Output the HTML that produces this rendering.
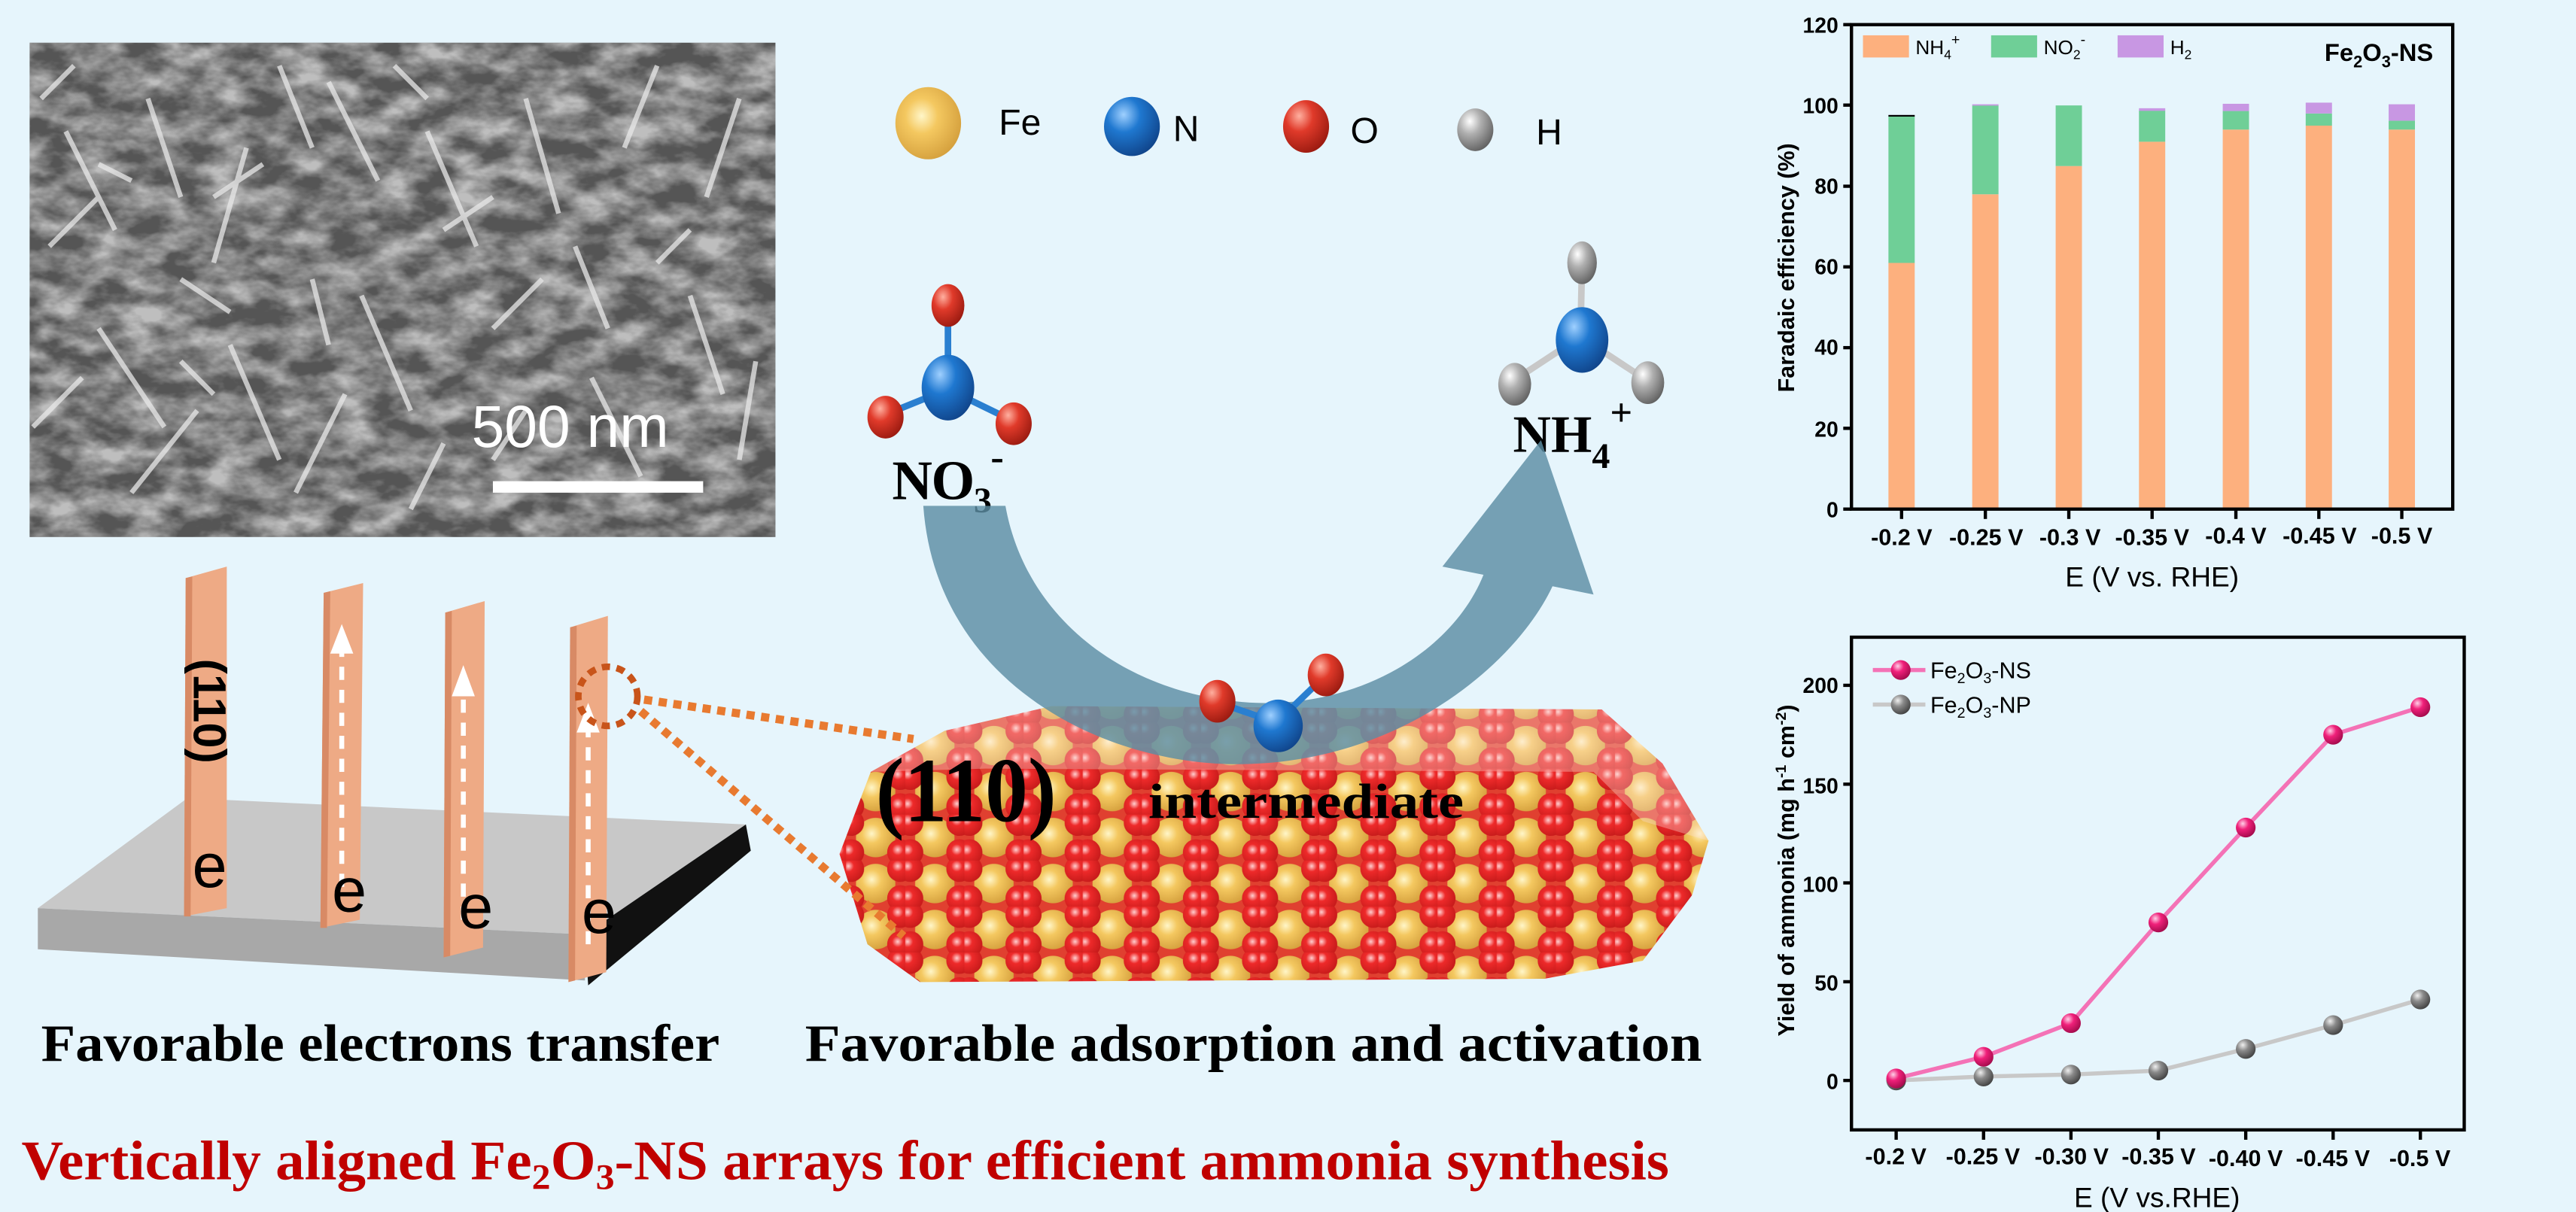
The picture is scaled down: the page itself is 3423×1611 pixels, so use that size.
<!DOCTYPE html>
<html><head><meta charset="utf-8"><style>
html,body{margin:0;padding:0;background:#e6f5fc;}
svg{display:block}
.s{font-family:"Liberation Sans",sans-serif;font-weight:bold}
.t{font-family:"Liberation Serif",serif;font-weight:bold}
</style></head><body>
<svg width="3423" height="1611" viewBox="0 0 1568 738" xmlns="http://www.w3.org/2000/svg">
<defs>
<radialGradient id="gFe" cx="0.4" cy="0.4" r="0.7"><stop offset="0" stop-color="#fff6c8"/><stop offset="0.35" stop-color="#f4c860"/><stop offset="1" stop-color="#d09a38"/></radialGradient>
<radialGradient id="gN" cx="0.35" cy="0.3" r="0.75"><stop offset="0" stop-color="#9fd0ff"/><stop offset="0.4" stop-color="#1f78d0"/><stop offset="1" stop-color="#10448a"/></radialGradient>
<radialGradient id="gO" cx="0.35" cy="0.3" r="0.75"><stop offset="0" stop-color="#ffb0a0"/><stop offset="0.4" stop-color="#e03a2a"/><stop offset="1" stop-color="#9a1a10"/></radialGradient>
<radialGradient id="gR" cx="0.4" cy="0.4" r="0.7"><stop offset="0" stop-color="#ffd0d0"/><stop offset="0.3" stop-color="#ee2a2a"/><stop offset="1" stop-color="#c01818"/></radialGradient>
<radialGradient id="gH" cx="0.35" cy="0.3" r="0.75"><stop offset="0" stop-color="#ffffff"/><stop offset="0.4" stop-color="#b0b0b0"/><stop offset="1" stop-color="#606060"/></radialGradient>
<radialGradient id="gP" cx="0.35" cy="0.3" r="0.75"><stop offset="0" stop-color="#ffd0e8"/><stop offset="0.4" stop-color="#f0207a"/><stop offset="1" stop-color="#a00a4a"/></radialGradient>
<radialGradient id="gG" cx="0.35" cy="0.3" r="0.75"><stop offset="0" stop-color="#f0f0f0"/><stop offset="0.4" stop-color="#8a8a8a"/><stop offset="1" stop-color="#404040"/></radialGradient>
<filter id="sem" x="0" y="0" width="1" height="1">
<feTurbulence type="fractalNoise" baseFrequency="0.04 0.07" numOctaves="4" seed="7"/>
<feColorMatrix type="matrix" values="0 0 0 0 1  0 0 0 0 1  0 0 0 0 1  2.2 0 0 0 -0.7"/>
</filter>
<pattern id="xtal" width="36" height="28" patternUnits="userSpaceOnUse" x="515" y="440">
<rect width="36" height="28" fill="#e04030"/>
<circle cx="18" cy="14" r="12" fill="url(#gFe)"/>
<circle cx="3" cy="5" r="8" fill="url(#gR)"/>
<circle cx="3" cy="23" r="8" fill="url(#gR)"/>
<circle cx="33" cy="5" r="8" fill="url(#gR)"/>
<circle cx="33" cy="23" r="8" fill="url(#gR)"/>
</pattern>
<clipPath id="semclip"><rect x="18" y="26" width="454" height="301"/></clipPath>
</defs>
<rect width="1568" height="738" fill="#e6f5fc"/>

<!-- SEM -->
<rect x="18" y="26" width="454" height="301" fill="#555"/>
<g clip-path="url(#semclip)">
<rect x="18" y="26" width="454" height="301" fill="#fff" filter="url(#sem)" opacity="0.62"/>
<g stroke="#e8e8e8" stroke-width="3" opacity="0.75">
<path d="M40 80 L70 140 M90 60 L110 120 M150 90 L130 160 M200 50 L230 110 M260 80 L290 150 M320 60 L340 130 M380 90 L400 40 M430 120 L450 60 M60 200 L100 260 M140 210 L170 280 M220 180 L250 250 M300 200 L330 170 M360 230 L390 290 M420 180 L440 240 M80 300 L120 250 M180 300 L210 240 M250 310 L270 270 M30 150 L60 120 M110 170 L140 190 M270 140 L300 120 M350 150 L370 200 M450 280 L460 220 M25 60 L45 40 M170 40 L190 90 M240 40 L260 60 M60 100 L80 110 M110 220 L130 240 M190 170 L200 210 M300 280 L320 250 M400 160 L420 140 M20 260 L50 230 M130 120 L160 100"/>
</g>
</g>
<text x="287" y="272" class="s" style="font-weight:normal" font-size="36" fill="#fff">500 nm</text>
<rect x="300" y="293" width="128" height="7" fill="#fff"/>

<!-- legend atoms -->
<ellipse cx="565" cy="75" rx="20" ry="22" fill="url(#gFe)"/><text x="608" y="82" class="s" style="font-weight:normal" font-size="22">Fe</text>
<ellipse cx="689" cy="77" rx="17" ry="18" fill="url(#gN)"/><text x="714" y="86" class="s" style="font-weight:normal" font-size="22">N</text>
<ellipse cx="795" cy="77" rx="14" ry="16" fill="url(#gO)"/><text x="822" y="87" class="s" style="font-weight:normal" font-size="22">O</text>
<ellipse cx="898" cy="79" rx="11" ry="13" fill="url(#gH)"/><text x="935" y="88" class="s" style="font-weight:normal" font-size="22">H</text>

<!-- NO3 -->
<g stroke-width="4"><line x1="577" y1="237" x2="577" y2="187" stroke="#2a7fd0"/><line x1="577" y1="237" x2="540" y2="252" stroke="#2a7fd0"/><line x1="577" y1="237" x2="616" y2="256" stroke="#2a7fd0"/></g>
<ellipse cx="577" cy="186" rx="10" ry="13" fill="url(#gO)"/>
<ellipse cx="577" cy="236" rx="16" ry="20" fill="url(#gN)"/>
<ellipse cx="539" cy="254" rx="11" ry="13" fill="url(#gO)"/>
<ellipse cx="617" cy="258" rx="11" ry="13" fill="url(#gO)"/>
<text x="543" y="304" class="t" font-size="34" textLength="68">NO<tspan font-size="22" dy="8">3</tspan><tspan font-size="24" dy="-26">-</tspan></text>
<!-- NH4 -->
<g stroke="#c8c8c8" stroke-width="4"><line x1="962" y1="205" x2="963" y2="160"/><line x1="962" y1="205" x2="921" y2="232"/><line x1="962" y1="205" x2="1003" y2="232"/></g>
<ellipse cx="963" cy="160" rx="9" ry="13" fill="url(#gH)"/>
<ellipse cx="963" cy="207" rx="16" ry="20" fill="url(#gN)"/>
<ellipse cx="922" cy="234" rx="10" ry="13" fill="url(#gH)"/>
<ellipse cx="1003" cy="233" rx="10" ry="13" fill="url(#gH)"/>
<text x="921" y="275" class="t" font-size="32">NH<tspan font-size="22" dy="10">4</tspan><tspan font-size="24" dy="-26">+</tspan></text>

<!-- crystal slab -->
<path d="M511 520 L530 470 L575 445 L640 430 L975 432 L1012 465 L1040 512 L1030 545 L1000 585 L940 596 L560 598 L528 575 Z" fill="url(#xtal)"/>
<path d="M530 470 L575 445 L640 430 L975 432 L1012 465 L1040 512 L1000 500 L970 470 L600 468 Z" fill="#fbe0d8" opacity="0.35"/>

<!-- big arrow -->
<path d="M562 308 C570 420 680 470 765 465 C860 460 925 400 945 357 L970 362 L938 268 L878 345 L903 350 C885 395 830 430 765 428 C690 425 625 380 612 308 Z" fill="#5b8ea4" opacity="0.82"/>

<!-- intermediate -->
<g stroke="#2a7fd0" stroke-width="4"><line x1="777" y1="440" x2="742" y2="428"/><line x1="777" y1="440" x2="806" y2="412"/></g>
<ellipse cx="741" cy="427" rx="11" ry="13" fill="url(#gO)"/>
<ellipse cx="807" cy="411" rx="11" ry="13" fill="url(#gO)"/>
<ellipse cx="778" cy="442" rx="15" ry="16" fill="url(#gN)"/>
<text x="533" y="500" class="t" font-size="56" textLength="110" lengthAdjust="spacingAndGlyphs">(110)</text>
<text x="699" y="498" class="t" font-size="30" textLength="192" lengthAdjust="spacingAndGlyphs">intermediate</text>

<!-- plate -->
<path d="M23 553 L114 486 L454 502 L356 569 Z" fill="#c8c8c8"/>
<path d="M23 553 L356 569 L356 597 L23 578 Z" fill="#a8a8a8"/>
<path d="M356 569 L454 502 L457 518 L358 600 Z" fill="#111"/>
<!-- slabs -->
<g>
<path d="M113 352 L138 345 L138 553 L112 558 Z" fill="#eeaa85"/><path d="M113 352 L117 351 L116 558 L112 558Z" fill="#d88a65"/>
<path d="M197 361 L221 355 L219 560 L195 565 Z" fill="#eeaa85"/><path d="M197 361 L201 360 L199 565 L195 565Z" fill="#d88a65"/>
<path d="M271 373 L295 366 L294 577 L270 583 Z" fill="#eeaa85"/><path d="M271 373 L275 372 L274 582 L270 583Z" fill="#d88a65"/>
<path d="M347 382 L370 375 L369 592 L346 598 Z" fill="#eeaa85"/><path d="M347 382 L351 381 L350 597 L346 598Z" fill="#d88a65"/>
</g>
<text transform="translate(118 433) rotate(90)" text-anchor="middle" class="s" font-size="28">(110)</text>
<g stroke="#fff" stroke-width="3" stroke-dasharray="8 6"><line x1="208" y1="540" x2="208" y2="395"/><line x1="282" y1="560" x2="282" y2="420"/><line x1="358" y1="575" x2="358" y2="440"/></g>
<g fill="#fff"><path d="M208 380 L201 398 L215 398Z"/><path d="M282 405 L275 424 L289 424Z"/><path d="M358 428 L351 446 L365 446Z"/></g>
<g class="s" style="font-weight:normal" font-size="38" fill="#000"><text x="117" y="540">e</text><text x="202" y="555">e</text><text x="279" y="565">e</text><text x="354" y="568">e</text></g>
<circle cx="370" cy="424" r="18" fill="none" stroke="#c8541a" stroke-width="4" stroke-dasharray="5 4"/>
<g stroke="#e87a30" stroke-width="5" stroke-dasharray="5 4"><line x1="392" y1="426" x2="556" y2="450"/><line x1="390" y1="433" x2="550" y2="570"/></g>

<!-- bottom text -->
<text x="25" y="646" class="t" font-size="32" textLength="413" lengthAdjust="spacingAndGlyphs">Favorable electrons transfer</text>
<text x="490" y="646" class="t" font-size="32" textLength="546" lengthAdjust="spacingAndGlyphs">Favorable adsorption and activation</text>
<text x="13" y="718" class="t" font-size="34" fill="#c00000" textLength="1003" lengthAdjust="spacingAndGlyphs">Vertically aligned Fe<tspan font-size="22" dy="6">2</tspan><tspan dy="-6">O</tspan><tspan font-size="22" dy="6">3</tspan><tspan dy="-6">-NS arrays for efficient ammonia synthesis</tspan></text>

<!-- chart 1 -->
<g>
<g>
<rect x="1149.5" y="160.1" width="16" height="149.9" fill="#fdb07e"/><rect x="1149.5" y="70.8" width="16" height="89.3" fill="#6fcf97"/><rect x="1149.5" y="70" width="16" height="1" fill="#000"/>
<rect x="1200.5" y="118.3" width="16" height="191.7" fill="#fdb07e"/><rect x="1200.5" y="64.2" width="16" height="54.1" fill="#6fcf97"/><rect x="1200.5" y="63.5" width="16" height="0.8" fill="#c897e3"/>
<rect x="1251.3" y="101.1" width="16" height="208.9" fill="#fdb07e"/><rect x="1251.3" y="64.2" width="16" height="36.9" fill="#6fcf97"/>
<rect x="1302" y="86.3" width="16" height="223.7" fill="#fdb07e"/><rect x="1302" y="67.3" width="16" height="19" fill="#6fcf97"/><rect x="1302" y="65.9" width="16" height="1.6" fill="#c897e3"/>
<rect x="1353" y="78.9" width="16" height="231.1" fill="#fdb07e"/><rect x="1353" y="67.6" width="16" height="11.3" fill="#6fcf97"/><rect x="1353" y="63.2" width="16" height="4.4" fill="#c897e3"/>
<rect x="1403.5" y="76.5" width="16" height="233.5" fill="#fdb07e"/><rect x="1403.5" y="69.1" width="16" height="7.4" fill="#6fcf97"/><rect x="1403.5" y="62.5" width="16" height="6.6" fill="#c897e3"/>
<rect x="1454" y="78.9" width="16" height="231.1" fill="#fdb07e"/><rect x="1454" y="73.5" width="16" height="5.4" fill="#6fcf97"/><rect x="1454" y="63.5" width="16" height="10" fill="#c897e3"/>
</g>
<rect x="1127" y="15" width="366" height="295" fill="none" stroke="#000" stroke-width="2"/>
<g stroke="#000" stroke-width="2">
<line x1="1122" y1="15" x2="1127" y2="15"/><line x1="1122" y1="64" x2="1127" y2="64"/><line x1="1122" y1="113.4" x2="1127" y2="113.4"/><line x1="1122" y1="162.5" x2="1127" y2="162.5"/><line x1="1122" y1="211.7" x2="1127" y2="211.7"/><line x1="1122" y1="260.8" x2="1127" y2="260.8"/><line x1="1122" y1="310" x2="1127" y2="310"/>
<line x1="1157.5" y1="310" x2="1157.5" y2="316"/><line x1="1208.5" y1="310" x2="1208.5" y2="316"/><line x1="1259.3" y1="310" x2="1259.3" y2="316"/><line x1="1310" y1="310" x2="1310" y2="316"/><line x1="1361" y1="310" x2="1361" y2="316"/><line x1="1411.5" y1="310" x2="1411.5" y2="316"/><line x1="1462" y1="310" x2="1462" y2="316"/>
</g>
<g class="s" font-size="13" text-anchor="end"><text x="1119" y="20">120</text><text x="1119" y="69">100</text><text x="1119" y="118">80</text><text x="1119" y="167">60</text><text x="1119" y="216">40</text><text x="1119" y="266">20</text><text x="1119" y="315">0</text></g>
<g class="s" font-size="14" text-anchor="middle"><text x="1157.5" y="332">-0.2 V</text><text x="1209" y="332">-0.25 V</text><text x="1260" y="332">-0.3 V</text><text x="1310" y="332">-0.35 V</text><text x="1361" y="331">-0.4 V</text><text x="1412" y="331">-0.45 V</text><text x="1462" y="331">-0.5 V</text></g>
<text x="1310" y="357" class="s" style="font-weight:normal" font-size="17" text-anchor="middle">E (V vs. RHE)</text>
<text transform="translate(1092 163) rotate(-90)" class="s" font-size="14" text-anchor="middle">Faradaic efficiency (%)</text>
<rect x="1134" y="21.5" width="28" height="13.5" fill="#fdb07e"/><text x="1166" y="33" class="s" style="font-weight:normal" font-size="12">NH<tspan font-size="8" dy="3">4</tspan><tspan font-size="9" dy="-9">+</tspan></text>
<rect x="1212" y="21.5" width="28" height="13.5" fill="#6fcf97"/><text x="1244" y="33" class="s" style="font-weight:normal" font-size="12">NO<tspan font-size="8" dy="3">2</tspan><tspan font-size="9" dy="-9">-</tspan></text>
<rect x="1289" y="21.5" width="28" height="13.5" fill="#c897e3"/><text x="1321" y="33" class="s" style="font-weight:normal" font-size="12">H<tspan font-size="8" dy="3">2</tspan></text>
<text x="1415" y="37" class="s" font-size="15">Fe<tspan font-size="10" dy="4">2</tspan><tspan dy="-4">O</tspan><tspan font-size="10" dy="4">3</tspan><tspan dy="-4">-NS</tspan></text>
</g>

<!-- chart 2 -->
<g>
<rect x="1127" y="388" width="373" height="300" fill="none" stroke="#000" stroke-width="2"/>
<g stroke="#000" stroke-width="2">
<line x1="1122" y1="657.9" x2="1127" y2="657.9"/><line x1="1122" y1="597.8" x2="1127" y2="597.8"/><line x1="1122" y1="537.6" x2="1127" y2="537.6"/><line x1="1122" y1="477.5" x2="1127" y2="477.5"/><line x1="1122" y1="417.3" x2="1127" y2="417.3"/>
<line x1="1154.2" y1="688" x2="1154.2" y2="694"/><line x1="1207.4" y1="688" x2="1207.4" y2="694"/><line x1="1260.6" y1="688" x2="1260.6" y2="694"/><line x1="1313.8" y1="688" x2="1313.8" y2="694"/><line x1="1367" y1="688" x2="1367" y2="694"/><line x1="1420.2" y1="688" x2="1420.2" y2="694"/><line x1="1473.3" y1="688" x2="1473.3" y2="694"/>
</g>
<g class="s" font-size="13" text-anchor="end"><text x="1119" y="663">0</text><text x="1119" y="603">50</text><text x="1119" y="543">100</text><text x="1119" y="483">150</text><text x="1119" y="422">200</text></g>
<g class="s" font-size="14" text-anchor="middle"><text x="1154" y="709">-0.2 V</text><text x="1207" y="709">-0.25 V</text><text x="1261" y="709">-0.30 V</text><text x="1314" y="709">-0.35 V</text><text x="1367" y="710">-0.40 V</text><text x="1420" y="710">-0.45 V</text><text x="1473" y="710">-0.5 V</text></g>
<text x="1313" y="735" class="s" style="font-weight:normal" font-size="17" text-anchor="middle">E (V vs.RHE)</text>
<text transform="translate(1092 530) rotate(-90)" class="s" font-size="14" text-anchor="middle">Yield of ammonia (mg h<tspan font-size="9" dy="-5">-1</tspan><tspan dy="5"> cm</tspan><tspan font-size="9" dy="-5">-2</tspan><tspan dy="5">)</tspan></text>
<polyline points="1154.2,657.9 1207.4,655.5 1260.6,654.3 1313.8,651.9 1367,638.7 1420.2,624.2 1473.3,608.6" fill="none" stroke="#c8c8c8" stroke-width="2.5"/>
<polyline points="1154.2,656.7 1207.4,643.5 1260.6,623 1313.8,561.7 1367,503.9 1420.2,447.4 1473.3,430.6" fill="none" stroke="#f472b6" stroke-width="2.5"/>
<g fill="url(#gG)"><circle cx="1154.2" cy="657.9" r="6"/><circle cx="1207.4" cy="655.5" r="6"/><circle cx="1260.6" cy="654.3" r="6"/><circle cx="1313.8" cy="651.9" r="6"/><circle cx="1367" cy="638.7" r="6"/><circle cx="1420.2" cy="624.2" r="6"/><circle cx="1473.3" cy="608.6" r="6"/></g>
<g fill="url(#gP)"><circle cx="1154.2" cy="656.7" r="6"/><circle cx="1207.4" cy="643.5" r="6"/><circle cx="1260.6" cy="623" r="6"/><circle cx="1313.8" cy="561.7" r="6"/><circle cx="1367" cy="503.9" r="6"/><circle cx="1420.2" cy="447.4" r="6"/><circle cx="1473.3" cy="430.6" r="6"/></g>
<line x1="1140" y1="408" x2="1172" y2="408" stroke="#f472b6" stroke-width="2.5"/><circle cx="1157" cy="408" r="6" fill="url(#gP)"/>
<line x1="1140" y1="429" x2="1172" y2="429" stroke="#c8c8c8" stroke-width="2.5"/><circle cx="1157" cy="429" r="6" fill="url(#gG)"/>
<text x="1175" y="413" class="s" style="font-weight:normal" font-size="14">Fe<tspan font-size="9" dy="3">2</tspan><tspan dy="-3">O</tspan><tspan font-size="9" dy="3">3</tspan><tspan dy="-3">-NS</tspan></text>
<text x="1175" y="434" class="s" style="font-weight:normal" font-size="14">Fe<tspan font-size="9" dy="3">2</tspan><tspan dy="-3">O</tspan><tspan font-size="9" dy="3">3</tspan><tspan dy="-3">-NP</tspan></text>
</g>
</svg>
</body></html>
